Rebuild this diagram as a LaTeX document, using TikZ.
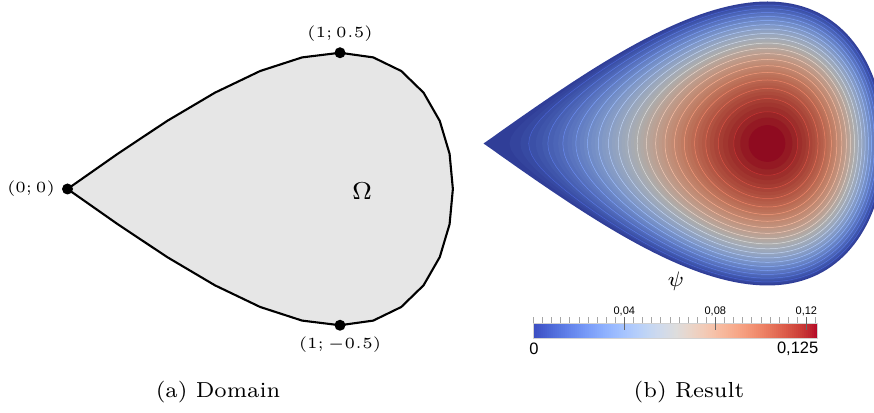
\documentclass[tikz,border=0pt]{standalone}
\usepackage{fontspec}
\newfontfamily\cbfont{Liberation Sans}
\definecolor{cw0}{RGB}{59,76,192}
\definecolor{cw1}{RGB}{68,90,204}
\definecolor{cw2}{RGB}{77,104,215}
\definecolor{cw3}{RGB}{87,117,225}
\definecolor{cw4}{RGB}{98,130,234}
\definecolor{cw5}{RGB}{108,142,241}
\definecolor{cw6}{RGB}{119,154,247}
\definecolor{cw7}{RGB}{130,165,251}
\definecolor{cw8}{RGB}{141,176,254}
\definecolor{cw9}{RGB}{152,185,255}
\definecolor{cw10}{RGB}{163,194,255}
\definecolor{cw11}{RGB}{174,201,253}
\definecolor{cw12}{RGB}{184,208,249}
\definecolor{cw13}{RGB}{194,213,244}
\definecolor{cw14}{RGB}{204,217,238}
\definecolor{cw15}{RGB}{213,219,230}
\definecolor{cw16}{RGB}{221,221,221}
\definecolor{cw17}{RGB}{229,216,209}
\definecolor{cw18}{RGB}{236,211,197}
\definecolor{cw19}{RGB}{241,204,185}
\definecolor{cw20}{RGB}{245,196,173}
\definecolor{cw21}{RGB}{247,187,160}
\definecolor{cw22}{RGB}{247,177,148}
\definecolor{cw23}{RGB}{247,166,135}
\definecolor{cw24}{RGB}{244,154,123}
\definecolor{cw25}{RGB}{241,141,111}
\definecolor{cw26}{RGB}{236,127,99}
\definecolor{cw27}{RGB}{229,112,88}
\definecolor{cw28}{RGB}{222,96,77}
\definecolor{cw29}{RGB}{213,80,66}
\definecolor{cw30}{RGB}{203,62,56}
\definecolor{cw31}{RGB}{192,40,47}
\definecolor{cw32}{RGB}{180,4,38}
\definecolor{domfill}{RGB}{230,230,230}
\newcommand\cwmap[2]{%
  \pgfmathsetmacro\cwpos{min(max(#1,0),1)*32}%
  \pgfmathtruncatemacro\cwi{min(floor(\cwpos),31)}%
  \pgfmathtruncatemacro\cwj{\cwi+1}%
  \pgfmathtruncatemacro\cww{round((\cwpos-\cwi)*100)}%
  \colorlet{#2}{cw\cwj!\cww!cw\cwi}%
}
\tikzset{
  dot/.style={circle, fill=black, inner sep=0pt, minimum size=11pt},
  ptlabel/.style={scale=3.1, inner sep=0pt},
  captext/.style={scale=3.1, inner sep=0pt},
  cbsmall/.style={font=\cbfont\fontsize{11}{12}\selectfont, inner sep=0pt},
  cbbig/.style={font=\cbfont\fontsize{16.5}{18}\selectfont, inner sep=0pt},
}
\begin{document}
\begin{tikzpicture}[x=1pt,y=1pt]
\useasboundingbox (0,0) rectangle (874,412);
% ---------- (a) Domain ----------
\begin{scope}[shift={(67.5,223)}, x=272.5pt, y=272.5pt]
  \draw[fill=domfill, line width=2.1pt, line join=round]
    plot[domain=0:345, samples=24, variable=\a] ({sqrt(max(1+cos(\a),0))},{0.5*sin(\a)}) -- cycle;
  \node[dot] (p0) at (0,0) {};
  \node[dot] (p1) at (1,0.5) {};
  \node[dot] (p2) at (1,-0.5) {};
\end{scope}
\node[ptlabel] (l0) at (31,223) {\tiny $(0;0)$};
\node[ptlabel] (l1) at (340,378) {\tiny $(1;0.5)$};
\node[ptlabel] (l2) at (340,67) {\tiny $(1;-0.5)$};
\node[scale=3.5, inner sep=0pt] (om) at (362,221) {\scriptsize $\Omega$};
% ---------- (b) Result ----------
\begin{scope}
  \clip (0,0) rectangle (874,412);
  \begin{scope}[shift={(483.5,268.5)}, x=284pt, y=284pt]
    \foreach \j in {0,...,59}{
      \pgfmathsetmacro\tlev{\j/60}
      \pgfmathsetmacro\qq{sqrt(1-\tlev)}
      \pgfmathsetmacro\tmid{(\j+0.5)/60}
      \cwmap{\tmid}{bandc}
      \fill[bandc!78!black] plot[domain=0:360, samples=145, variable=\a]
        ({sqrt(max(1+\qq*cos(\a),0))},{\qq/2*sin(\a)}) -- cycle;
    }
    \foreach \k in {1,...,19}{
      \pgfmathsetmacro\tlev{\k/20}
      \pgfmathsetmacro\qq{sqrt(1-\tlev)}
      \cwmap{\tlev}{linec}
      \draw[linec, line width=0.5pt] plot[domain=0:360, samples=145, variable=\a]
        ({sqrt(max(1+\qq*cos(\a),0))},{\qq/2*sin(\a)}) -- cycle;
    }
  \end{scope}
\end{scope}
\node[scale=3, inner sep=0pt] (psi) at (676,131) {\scriptsize $\psi$};
% colour bar
\foreach \i in {0,...,141}{
  \pgfmathsetmacro\tb{(\i+0.5)/142}
  \cwmap{\tb}{barc}
  \fill[barc] ({533.3+\i*2.003},73.7) rectangle ++(2.1,15);
}
\node[draw=gray!35, line width=0.5pt, inner sep=0pt, minimum width=284.4pt, minimum height=15pt] (bar) at (675.5,81.2) {};
\foreach \i in {0,...,31}{
  \draw[gray!70, line width=0.5pt] ({533.3+\i*9.101},88.7) -- ++(0,6);
}
\foreach \i/\lab in {10/{0,04},20/{0,08},30/{0,12}}{
  \draw[gray!80!black, line width=0.6pt] ({533.3+\i*9.101},82) -- ({533.3+\i*9.101},94.7);
  \node[cbsmall, anchor=south] (tk\i) at ({533.3+\i*9.101},95.5) {\lab};
}
\node[cbbig] (c0) at (534,63.5) {0};
\node[cbbig, anchor=east] (c1) at (818.5,63.5) {0,125};
% captions
\node[captext] (capa) at (218,20) {\scriptsize (a)\ Domain};
\node[captext] (capb) at (689,20) {\scriptsize (b)\ Result};
\end{tikzpicture}
\end{document}
